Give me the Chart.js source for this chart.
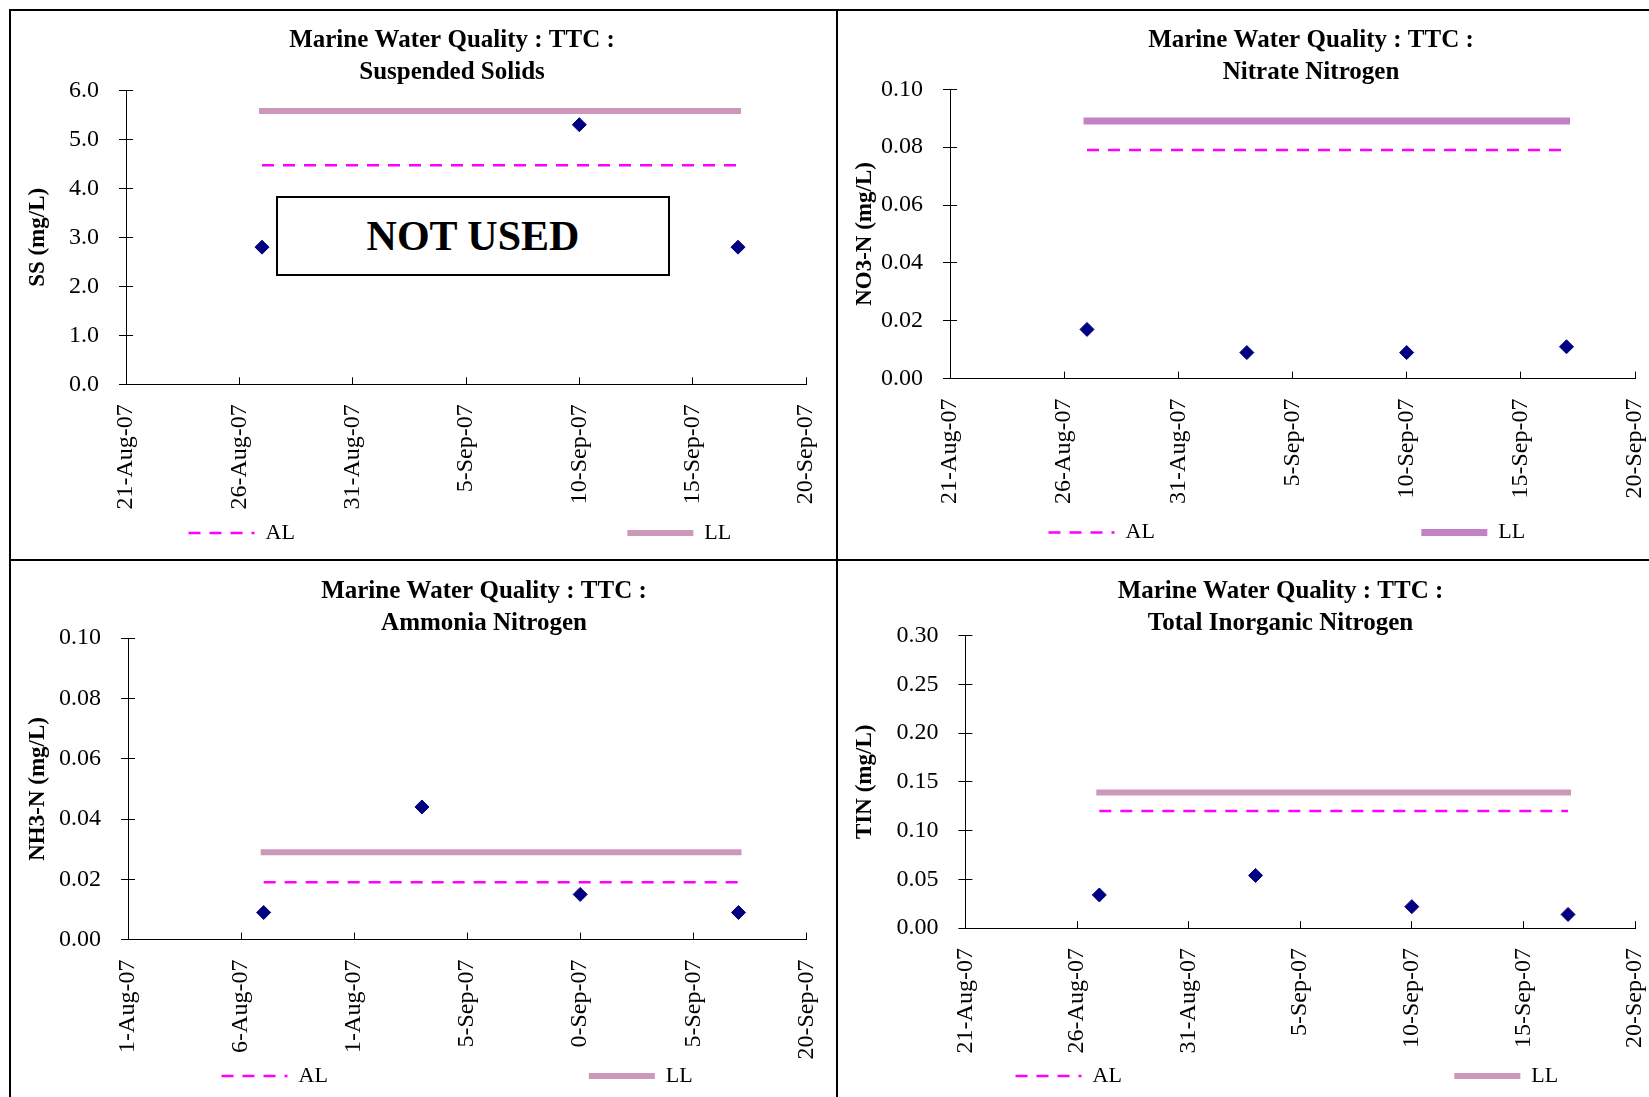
<!DOCTYPE html>
<html>
<head>
<meta charset="utf-8">
<script src="https://cdn.jsdelivr.net/npm/chart.js@4.4.1/dist/chart.umd.min.js"></script>
<style>
  html, body { margin:0; padding:0; background:#fff; }
  body { position:relative; width:1649px; height:1097px; overflow:hidden; }
  .rule { position:absolute; background:#000; }
  canvas { position:absolute; display:block; }
  #notUsed { position:absolute; left:276px; top:196px; width:390px; height:76px; border:2px solid #000; background:#fff;
     display:flex; align-items:center; justify-content:center; font-family:'Liberation Serif', serif; font-weight:bold; font-size:42px; color:#000; z-index:2; }
</style>
</head>
<body>
<div class="rule" style="left:9px;top:9px;width:1640px;height:2px"></div>
<div class="rule" style="left:9px;top:9px;width:2px;height:1088px"></div>
<div class="rule" style="left:836px;top:9px;width:2px;height:1088px"></div>
<div class="rule" style="left:9px;top:559px;width:1640px;height:2px"></div>
<canvas id="c1" width="825" height="548" style="left:11px;top:11px;width:825px;height:548px"></canvas>
<canvas id="c2" width="811" height="548" style="left:838px;top:11px;width:811px;height:548px"></canvas>
<canvas id="c3" width="825" height="536" style="left:11px;top:561px;width:825px;height:536px"></canvas>
<canvas id="c4" width="811" height="536" style="left:838px;top:561px;width:811px;height:536px"></canvas>
<div id="notUsed">NOT USED</div>
<script>
// ---------------- DATA ----------------
const titleLine = 'Marine Water Quality : TTC :';
const axisStart = '2007-08-21';
const axisEnd = '2007-09-20';
const xTickLabels = ['21-Aug-07','26-Aug-07','31-Aug-07','5-Sep-07','10-Sep-07','15-Sep-07','20-Sep-07'];
const xTickLabelsNH3 = ['1-Aug-07','6-Aug-07','1-Aug-07','5-Sep-07','0-Sep-07','5-Sep-07','20-Sep-07'];
const limitDates = ['2007-08-27','2007-09-17'];

const ssDates = ['2007-08-27','2007-09-10','2007-09-17'];
const ssValues = [2.8, 5.3, 2.8];
const ssAL = [4.47, 4.47];
const ssLL = [5.58, 5.58];

const no3Dates = ['2007-08-27','2007-09-03','2007-09-10','2007-09-17'];
const no3Values = [0.017, 0.009, 0.009, 0.011];
const no3AL = [0.079, 0.079];
const no3LL = [0.089, 0.089];

const nh3Dates = ['2007-08-27','2007-09-03','2007-09-10','2007-09-17'];
const nh3Values = [0.009, 0.044, 0.015, 0.009];
const nh3AL = [0.019, 0.019];
const nh3LL = [0.029, 0.029];

const tinDates = ['2007-08-27','2007-09-03','2007-09-10','2007-09-17'];
const tinValues = [0.034, 0.054, 0.022, 0.014];
const tinAL = [0.12, 0.12];
const tinLL = [0.139, 0.139];

// ---------------- BUILD ----------------
const FONT = "'Liberation Serif', 'Times New Roman', serif";
Chart.defaults.font.family = FONT;
Chart.defaults.color = '#000';
const dayNum = s => Date.UTC(+s.slice(0,4), +s.slice(5,7) - 1, +s.slice(8,10)) / 86400000;

const panels = [
  { id:'c1', title:[titleLine,'Suspended Solids'], yTitle:'SS (mg/L)', yMax:6, yStep:1, dec:1,
    dates:ssDates, values:ssValues, al:ssAL, ll:ssLL, xLabels:xTickLabels, llColor:'#cc99bb', llWidth:6,
    L:{ w:825, h:548, area:{l:115, r:795, t:79.4, b:373.3}, titleC:441, titleLine1:29.3, legAL:177, legLL:618, legC:522 } },
  { id:'c2', title:[titleLine,'Nitrate Nitrogen'], yTitle:'NO3-N (mg/L)', yMax:0.1, yStep:0.02, dec:2,
    dates:no3Dates, values:no3Values, al:no3AL, ll:no3LL, xLabels:xTickLabels, llColor:'#c382c8', llWidth:7,
    L:{ w:811, h:548, area:{l:112, r:797, t:78.3, b:367.6}, titleC:473, titleLine1:29.3, legAL:208, legLL:582, legC:521.5 } },
  { id:'c3', title:[titleLine,'Ammonia Nitrogen'], yTitle:'NH3-N (mg/L)', yMax:0.1, yStep:0.02, dec:2,
    dates:nh3Dates, values:nh3Values, al:nh3AL, ll:nh3LL, xLabels:xTickLabelsNH3, llColor:'#cc99bb', llWidth:6,
    L:{ w:825, h:536, area:{l:117, r:795.3, t:77.2, b:378.6}, titleC:473, titleLine1:31, legAL:208, legLL:580, legC:516 } },
  { id:'c4', title:[titleLine,'Total Inorganic Nitrogen'], yTitle:'TIN (mg/L)', yMax:0.3, yStep:0.05, dec:2,
    dates:tinDates, values:tinValues, al:tinAL, ll:tinLL, xLabels:xTickLabels, llColor:'#cc99bb', llWidth:6,
    L:{ w:811, h:536, area:{l:127.4, r:797, t:74.5, b:367.1}, titleC:442.5, titleLine1:30.5, legAL:178, legLL:618, legC:516 } }
];

function build(p) {
  const L = p.L;
  const padL = 10;
  const padR = padL + L.w - 2 * L.titleC;
  const rightBox = L.w - padR - L.area.r;
  const yWidth = L.area.l - padL;
  const tSize = 25, tLH = 32;
  const tPadTop = L.titleLine1 - tLH / 2;
  const tPadBot = L.area.t - tPadTop - 2 * tLH;
  const legSize = 22, lp = 4, bw = 66;
  let padB = L.h - L.legC - (legSize / 2 + 10);
  if (padB < 0) padB = 0;
  const legTop = L.h - padB - (legSize + lp + 10);
  const xHeight = legTop - L.area.b;

  const mctx = document.createElement('canvas').getContext('2d');
  mctx.font = legSize + 'px ' + FONT;
  const sp = mctx.measureText(' ').width;
  const wAL = mctx.measureText('AL').width;
  const x0 = padL + lp;
  const n1 = Math.max(0, Math.round((L.legAL - x0 - bw - legSize / 2 - lp) / sp));
  const alStart = x0 + bw + legSize / 2 + n1 * sp + lp;
  const n2 = Math.max(0, Math.round((L.legLL - alStart - 2 * bw - legSize - wAL - 2 * lp) / sp));
  const spacer = n => ({ text:' '.repeat(n), fillStyle:'rgba(0,0,0,0)', strokeStyle:'rgba(0,0,0,0)', lineWidth:0,
                         pointStyle:'line', rotation:0, hidden:false, fontColor:'rgba(0,0,0,0)' });
  const item = d => ({ text:d.label, fillStyle:d.borderColor, strokeStyle:d.borderColor, lineWidth:d.borderWidth,
                       lineDash:d.borderDash || [], lineCap:'butt', pointStyle:'line', rotation:0, hidden:false, fontColor:'#000' });

  const pts = p.dates.map((d, i) => ({ x: dayNum(d), y: p.values[i] }));
  const alPts = limitDates.map((d, i) => ({ x: dayNum(d), y: p.al[i] }));
  const llPts = limitDates.map((d, i) => ({ x: dayNum(d), y: p.ll[i] }));

  new Chart(document.getElementById(p.id), {
    type: 'scatter',
    data: { datasets: [
      { type:'scatter', label:'Data', data:pts, pointStyle:'rectRot', pointRadius:7, pointBorderWidth:1,
        backgroundColor:'#000080', borderColor:'#000080' },
      { type:'line', label:'AL', data:alPts, showLine:true, borderColor:'#ff00ff', backgroundColor:'#ff00ff',
        borderWidth:2.5, borderDash:[12, 9], pointRadius:0, fill:false },
      { type:'line', label:'LL', data:llPts, showLine:true, borderColor:p.llColor, backgroundColor:p.llColor,
        borderWidth:p.llWidth, borderCapStyle:'square', pointRadius:0, fill:false }
    ]},
    options: {
      responsive:false, animation:false, devicePixelRatio:1, events:[],
      layout: { padding:{ left:padL, right:padR, top:0, bottom:padB }, autoPadding:false },
      plugins: {
        tooltip: { enabled:false },
        title: { display:true, text:p.title, color:'#000', font:{ size:tSize, weight:'bold', lineHeight:tLH / tSize },
                 padding:{ top:tPadTop, bottom:tPadBot } },
        legend: { display:true, position:'bottom', align:'start',
          labels: { font:{ size:legSize }, color:'#000', padding:lp, usePointStyle:true, pointStyleWidth:bw, boxHeight:legSize,
            generateLabels: chart => {
              const ds = chart.data.datasets;
              return [spacer(n1), item(ds[1]), spacer(n2), item(ds[2])];
            } } }
      },
      scales: {
        x: { type:'linear', position:'bottom', min:dayNum(axisStart), max:dayNum(axisEnd),
             afterFit: s => { s.height = xHeight; s.paddingLeft = 0; s.paddingRight = 0; },
             border:{ display:true, color:'#000', width:1 },
             grid:{ drawOnChartArea:false, drawTicks:true, tickLength:-7, color:'#000', lineWidth:1 },
             ticks:{ stepSize:5, autoSkip:false, maxRotation:90, minRotation:90, padding:27, font:{ size:24 }, color:'#000',
                     callback:(v, i) => p.xLabels[i] } },
        y: { type:'linear', position:'left', weight:1, min:0, max:p.yMax,
             afterFit: s => { s.width = yWidth; s.paddingTop = 0; s.paddingBottom = 0; },
             border:{ display:true, color:'#000', width:1 },
             grid:{ drawOnChartArea:false, drawTicks:true, tickLength:7, color:'#000', lineWidth:1 },
             ticks:{ stepSize:p.yStep, padding:20, font:{ size:24 }, color:'#000', callback: v => v.toFixed(p.dec) },
             title:{ display:true, text:p.yTitle, color:'#000', font:{ size:23, weight:'bold' }, padding:{ top:3.7, bottom:0 } } },
        yin: { type:'linear', position:'left', weight:0, min:0, max:p.yMax,
             afterFit: s => { s.width = 0; s.paddingTop = 0; s.paddingBottom = 0; },
             border:{ display:false },
             grid:{ drawOnChartArea:false, drawTicks:true, tickLength:-7, color:'#000', lineWidth:1 },
             ticks:{ stepSize:p.yStep, display:false } },
        yR: { type:'linear', position:'right', min:0, max:1,
             afterFit: s => { s.width = rightBox; s.paddingTop = 0; s.paddingBottom = 0; },
             border:{ display:false }, grid:{ display:false }, ticks:{ display:false } }
      }
    }
  });
}
panels.forEach(build);
</script>
</body>
</html>
